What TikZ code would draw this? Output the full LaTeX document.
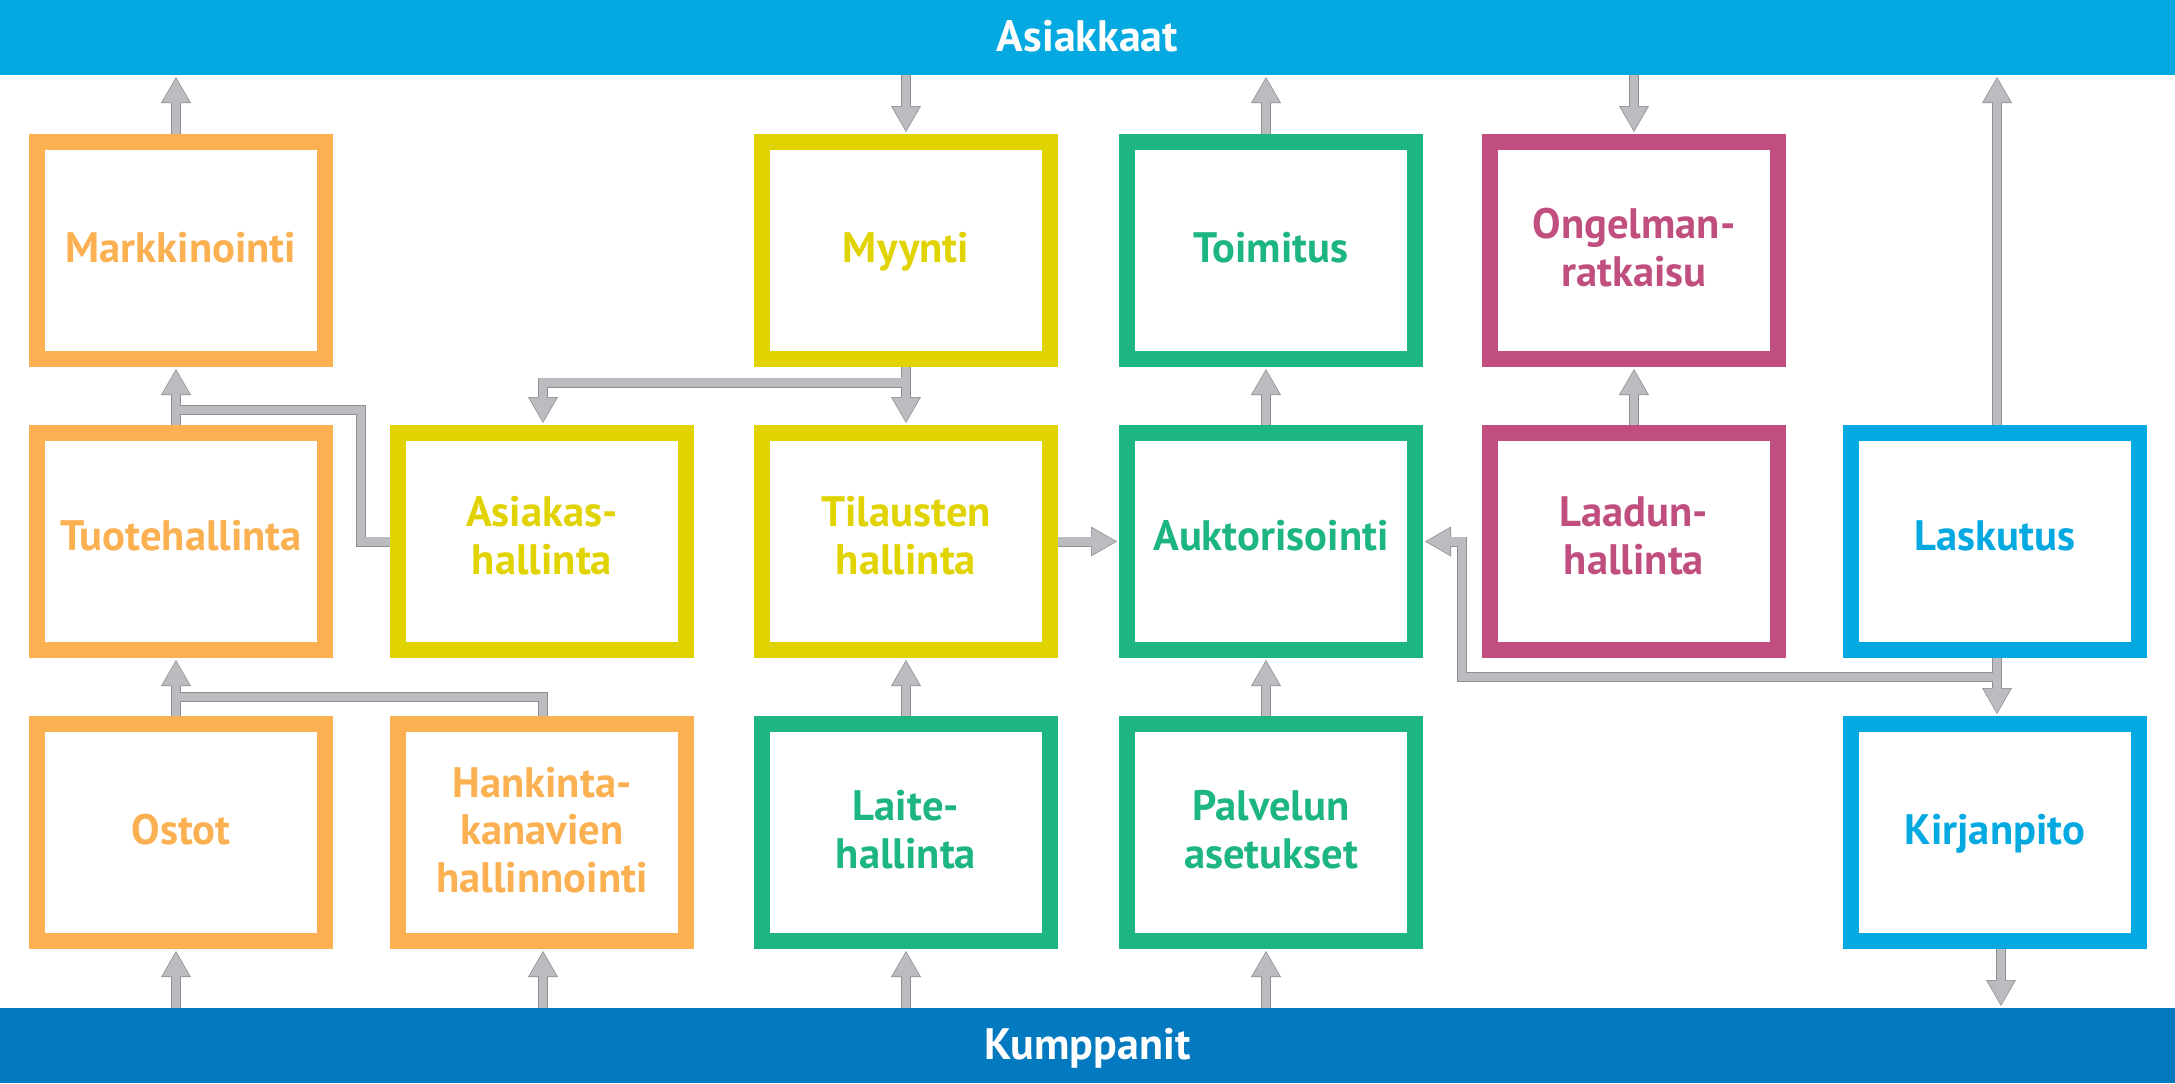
\documentclass[tikz,border=0pt]{standalone}
\usepackage{fontspec}
\setmainfont{PT Sans}
\usetikzlibrary{arrows.meta,calc}
\definecolor{cOrange}{HTML}{FBB052}
\definecolor{cYellow}{HTML}{E1D300}
\definecolor{cGreen}{HTML}{1EB680}
\definecolor{cMagenta}{HTML}{C04F7F}
\definecolor{cCyan}{HTML}{03A9E0}
\definecolor{cBlue}{HTML}{037ABF}
\definecolor{arrLight}{HTML}{BBBCC0}
\definecolor{arrDark}{HTML}{8E8F93}
\newcommand\labfont{\fontsize{21.3pt}{23.8pt}\selectfont\bfseries}
\newcommand\bandfont{\fontsize{22pt}{24pt}\selectfont\bfseries}
\newcommand\allconns[2]{%
  % to Asiakkaat / from Asiakkaat
  \draw[#1,#2] (L1 |- mark.north) -- (L1 |- asiakkaat.south);
  \draw[#1,#2] (L3 |- asiakkaat.south) -- (L3 |- myynti.north);
  \draw[#1,#2] (L4 |- toim.north) -- (L4 |- asiakkaat.south);
  \draw[#1,#2] (L5 |- asiakkaat.south) -- (L5 |- ong.north);
  \draw[#1,#2] (L6 |- lasku.north) -- (L6 |- asiakkaat.south);
  % row 2 -> row 1
  \draw[#1,#2] (L1 |- tuote.north) -- (L1 |- mark.south);
  \draw[#1] (asiak.west) -- (V1 |- asiak.west) -- (V1 |- H1) -- (L1 |- H1);
  \draw[#1,#2] (L3 |- myynti.south) -- (L3 |- tilaus.north);
  \draw[#1,#2] (L3 |- myynti.south) -- (L3 |- H2) -- (L2 |- H2) -- (L2 |- asiak.north);
  \draw[#1,#2] (L4 |- auk.north) -- (L4 |- toim.south);
  \draw[#1,#2] (L5 |- laatu.north) -- (L5 |- ong.south);
  % row 2 horizontals
  \draw[#1,#2] (tilaus.east) -- (auk.west);
  \draw[#1,#2] (L6 |- lasku.south) -- (L6 |- H4) -- (V2 |- H4) -- (V2 |- auk.east) -- (auk.east);
  \draw[#1,#2] (L6 |- lasku.south) -- (L6 |- kirja.north);
  % row 3 -> row 2
  \draw[#1,#2] (L1 |- ostot.north) -- (L1 |- tuote.south);
  \draw[#1] (L2 |- hank.north) -- (L2 |- H3) -- (L1 |- H3);
  \draw[#1,#2] (L3 |- laite.north) -- (L3 |- tilaus.south);
  \draw[#1,#2] (L4 |- palv.north) -- (L4 |- auk.south);
  % Kumppanit
  \draw[#1,#2] (L1 |- kumpp.north) -- (L1 |- ostot.south);
  \draw[#1,#2] (L2 |- kumpp.north) -- (L2 |- hank.south);
  \draw[#1,#2] (L3 |- kumpp.north) -- (L3 |- laite.south);
  \draw[#1,#2] (L4 |- kumpp.north) -- (L4 |- palv.south);
  \draw[#1,#2] (L7 |- kirja.south) -- (L7 |- kumpp.north);
}
\tikzset{
  box/.style={draw=#1, text=#1, line width=8pt, fill=white,
    minimum width=144pt, minimum height=108.5pt, inner sep=0pt,
    outer sep=4pt, align=center, font=\labfont, text depth=3pt},
  rowtwo/.style={text depth=6pt},
  band/.style={fill=#1, text=white, minimum width=1087.5pt,
    minimum height=37.5pt, inner sep=0pt, outer sep=0pt,
    font=\bandfont, text depth=1.5pt},
  outerline/.style={draw=arrDark, line width=5pt, line join=miter},
  outerarrow/.style={-{Triangle[length=13pt,width=15pt,line width=0pt]}, shorten >=1pt},
  innerline/.style={draw=arrLight, line width=4.1pt, line join=miter},
  innerarrow/.style={-{Triangle[length=12pt,width=13.8pt,line width=0pt]}, shorten >=1.7pt}
}
\begin{document}
\begin{tikzpicture}[x=0.5pt,y=-0.5pt]
  \path[use as bounding box, fill=white] (0,0) rectangle (2175,1083);
  % bands
  \node[band=cCyan, anchor=north west] (asiakkaat) at (0,0) {Asiakkaat};
  \node[band=cBlue, anchor=south west] (kumpp) at (0,1083) {Kumppanit};
  % boxes
  \node[box=cOrange] (mark) at (181,250.5) {Markkinointi};
  \node[box=cOrange, rowtwo] (tuote) at (181,541.5) {Tuotehallinta};
  \node[box=cOrange] (ostot) at (181,832.5) {Ostot};
  \node[box=cYellow, rowtwo] (asiak) at (542,541.5) {Asiakas-\\hallinta};
  \node[box=cOrange] (hank) at (542,832.5) {Hankinta-\\kanavien\\hallinnointi};
  \node[box=cYellow] (myynti) at (906,250.5) {Myynti};
  \node[box=cYellow, rowtwo] (tilaus) at (906,541.5) {Tilausten\\hallinta};
  \node[box=cGreen] (laite) at (906,832.5) {Laite-\\hallinta};
  \node[box=cGreen] (toim) at (1271,250.5) {Toimitus};
  \node[box=cGreen, rowtwo] (auk) at (1271,541.5) {Auktorisointi};
  \node[box=cGreen] (palv) at (1271,832.5) {Palvelun\\asetukset};
  \node[box=cMagenta] (ong) at (1634,250.5) {Ongelman-\\ratkaisu};
  \node[box=cMagenta, rowtwo] (laatu) at (1634,541.5) {Laadun-\\hallinta};
  \node[box=cCyan, rowtwo] (lasku) at (1995,541.5) {Laskutus};
  \node[box=cCyan] (kirja) at (1995,832.5) {Kirjanpito};
  % lanes
  \coordinate (L1) at (176,0);
  \coordinate (L2) at (543,0);
  \coordinate (L3) at (906,0);
  \coordinate (L4) at (1266,0);
  \coordinate (L5) at (1634,0);
  \coordinate (L6) at (1997,0);
  \coordinate (L7) at (2001,0);
  \coordinate (V1) at (361,0);
  \coordinate (V2) at (1462,0);
  \coordinate (H1) at (0,410);
  \coordinate (H2) at (0,382.5);
  \coordinate (H3) at (0,697);
  \coordinate (H4) at (0,677);
  % connectors: outline pass, then fill pass
  \allconns{outerline}{outerarrow}
  \allconns{innerline}{innerarrow}
\end{tikzpicture}
\end{document}
